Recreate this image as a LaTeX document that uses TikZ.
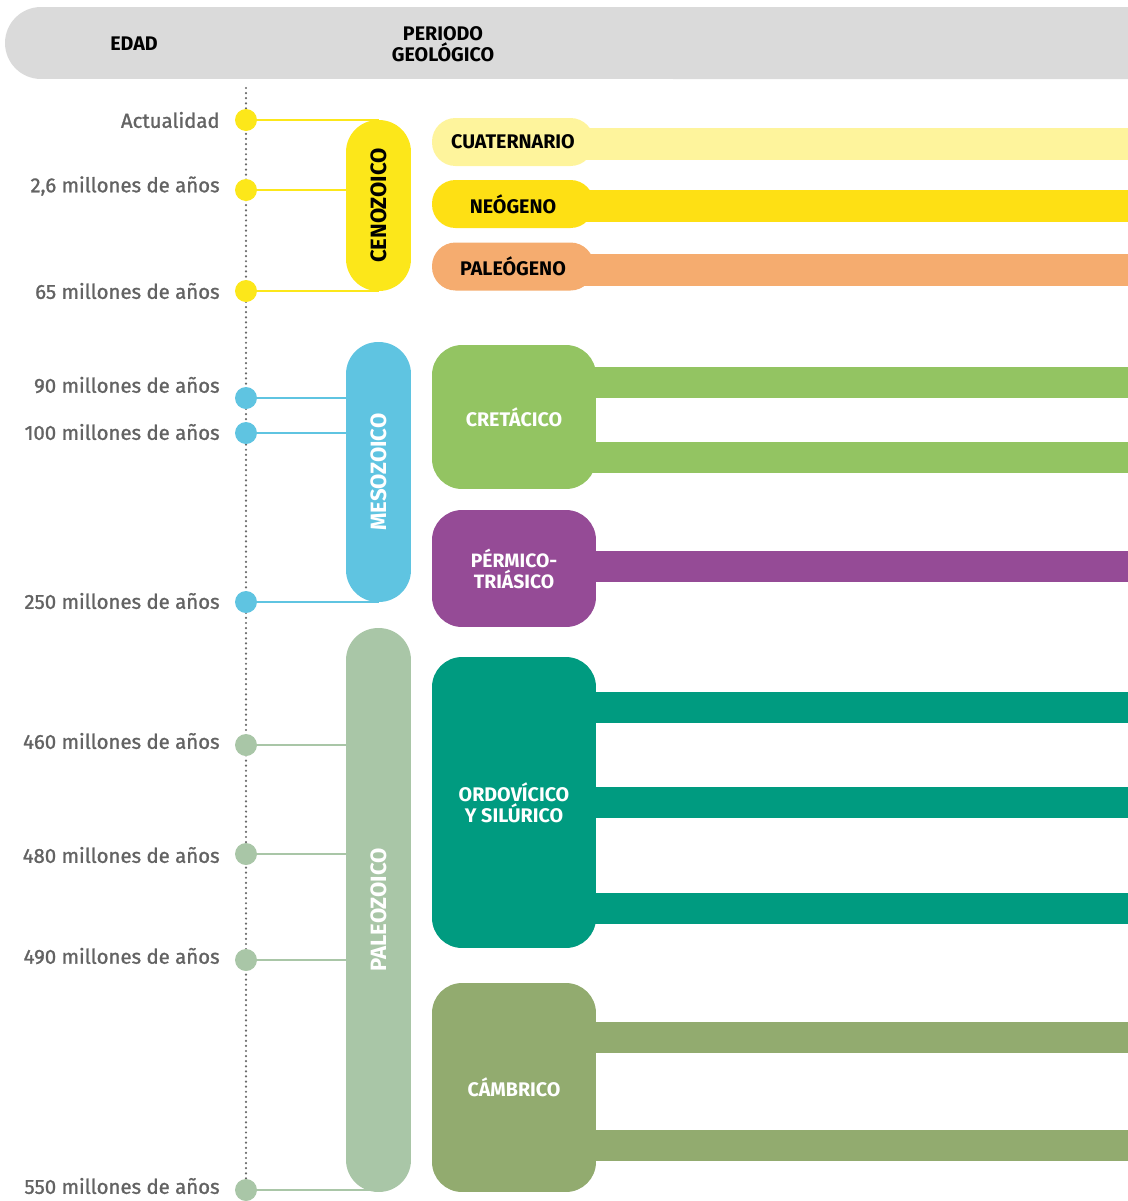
\documentclass[tikz,border=0pt]{standalone}
\usepackage{fontspec}
\setmainfont{Fira Sans}
\newfontfamily\agefont[FakeBold=1.2]{Fira Sans}
\usetikzlibrary{backgrounds}
\definecolor{hdr}{HTML}{DADADA}
\definecolor{agegray}{HTML}{636363}
\definecolor{dotgray}{HTML}{6A6A6A}
\definecolor{cceno}{HTML}{FCE71A}
\definecolor{cmeso}{HTML}{5FC4E1}
\definecolor{cpaleo}{HTML}{A9C6A7}
\definecolor{ccuat}{HTML}{FEF49C}
\definecolor{cneo}{HTML}{FEE014}
\definecolor{cpaleog}{HTML}{F5AC6F}
\definecolor{ccret}{HTML}{93C462}
\definecolor{cperm}{HTML}{954B96}
\definecolor{cordo}{HTML}{009B80}
\definecolor{ccamb}{HTML}{92AB6F}
\begin{document}
\begin{tikzpicture}[x=0.02cm,y=-0.02cm,
  agelbl/.style={anchor=east, text=agegray, inner sep=0, font=\agefont\fontsize{11.6}{14}\selectfont},
  dotn/.style={circle, minimum size=0.44cm, inner sep=0, fill=#1},
  conn/.style={draw=#1, line width=1.1pt},
  era/.style={rotate=90, minimum height=1.3cm, rounded corners=0.64cm, inner sep=0, font=\bfseries\fontsize{12.6}{13}\selectfont},
  pill/.style={rounded corners=0.47cm, minimum width=3.24cm, minimum height=0.96cm, inner sep=0, font=\bfseries\fontsize{11.2}{12}\selectfont},
  bigbox/.style={rounded corners=0.6cm, minimum width=3.28cm, inner sep=0, text=white, align=center, font=\bfseries\fontsize{11.2}{12}\selectfont},
  hdrtxt/.style={inner sep=0, align=center, font=\bfseries\fontsize{11.2}{10.2}\selectfont},
  dotline/.style={draw=dotgray, line width=1.4pt, line cap=round, dash pattern=on 0pt off 2.9pt}
]
\useasboundingbox (0,0) rectangle (1128,1201);
% header band
\fill[hdr] (1128,7) -- (41,7) arc[start angle=90, end angle=270, radius=0.72cm] -- (1128,79) -- cycle;
\node[hdrtxt] (edad) at (134,44) {EDAD};
\node[hdrtxt] (periodo) at (443,44) {PERIODO\\GEOLÓGICO};
% dotted time line
\coordinate (ltop) at (246,88);
\coordinate (lbot) at (246,1201);
\draw[dotline] (ltop) -- (lbot);
% bars
\fill[ccuat] (560,128) rectangle (1128,160);
\fill[cneo] (560,190) rectangle (1128,222);
\fill[cpaleog] (560,254) rectangle (1128,286);
\fill[ccret] (560,367) rectangle (1128,398);
\fill[ccret] (560,442) rectangle (1128,473);
\fill[cperm] (560,551) rectangle (1128,582);
\fill[cordo] (560,692) rectangle (1128,723);
\fill[cordo] (560,787) rectangle (1128,818);
\fill[cordo] (560,893) rectangle (1128,924);
\fill[ccamb] (560,1022) rectangle (1128,1053);
\fill[ccamb] (560,1130) rectangle (1128,1161);
% eras
\node[era, fill=cceno, minimum width=3.42cm] (ceno) at (378.5,205.5) {CENOZOICO};
\node[era, fill=cmeso, text=white, minimum width=5.2cm] (meso) at (378.5,472) {MESOZOICO};
\node[era, fill=cpaleo, text=white, minimum width=11.28cm] (paleo) at (378.5,910) {PALEOZOICO};
% periods
\node[pill, fill=ccuat] (cuat) at (513,142) {CUATERNARIO};
\node[pill, fill=cneo] (neo) at (513,204) {NEÓGENO};
\node[pill, fill=cpaleog] (paleog) at (513,266.5) {PALEÓGENO};
\node[bigbox, fill=ccret, minimum height=2.88cm] (cret) at (514,417) {CRETÁCICO};
\node[bigbox, fill=cperm, minimum height=2.34cm, font=\bfseries\fontsize{11}{12}\selectfont] (perm) at (514,568.5) {PÉRMICO-\\TRIÁSICO};
\node[bigbox, fill=cordo, minimum height=5.82cm, font=\bfseries\fontsize{11.2}{10.2}\selectfont] (ordo) at (514,802.5) {ORDOVÍCICO\\Y SILÚRICO};
\node[bigbox, fill=ccamb, minimum height=4.18cm] (camb) at (514,1087.5) {CÁMBRICO};
% dots
\node[dotn=cceno] (d1) at (246,120) {};
\node[dotn=cceno] (d2) at (246,190) {};
\node[dotn=cceno] (d3) at (246,291) {};
\node[dotn=cmeso] (d4) at (246,398) {};
\node[dotn=cmeso] (d5) at (246,433) {};
\node[dotn=cmeso] (d6) at (246,602) {};
\node[dotn=cpaleo] (d7) at (246,745) {};
\node[dotn=cpaleo] (d8) at (246,854) {};
\node[dotn=cpaleo] (d9) at (246,960) {};
\node[dotn=cpaleo] (d10) at (246,1190) {};
% connectors
\begin{scope}[on background layer]
\draw[conn=cceno] (d1) -- (d1 -| ceno.center);
\draw[conn=cceno] (d2) -- (d2 -| ceno.center);
\draw[conn=cceno] (d3) -- (d3 -| ceno.center);
\draw[conn=cmeso] (d4) -- (d4 -| meso.center);
\draw[conn=cmeso] (d5) -- (d5 -| meso.center);
\draw[conn=cmeso] (d6) -- (d6 -| meso.center);
\draw[conn=cpaleo] (d7) -- (d7 -| paleo.center);
\draw[conn=cpaleo] (d8) -- (d8 -| paleo.center);
\draw[conn=cpaleo] (d9) -- (d9 -| paleo.center);
\draw[conn=cpaleo] (d10) -- (d10 -| paleo.center);
\end{scope}
% age labels
\node[agelbl] (a1) at (220,120) {Actualidad};
\node[agelbl] (a2) at (220,186) {2,6 millones de años};
\node[agelbl] (a3) at (220,291) {65 millones de años};
\node[agelbl] (a4) at (220,385) {90 millones de años};
\node[agelbl] (a5) at (220,432) {100 millones de años};
\node[agelbl] (a6) at (220,601) {250 millones de años};
\node[agelbl] (a7) at (220,741) {460 millones de años};
\node[agelbl] (a8) at (220,855) {480 millones de años};
\node[agelbl] (a9) at (220,956) {490 millones de años};
\node[agelbl] (a10) at (220,1186) {550 millones de años};
\end{tikzpicture}
\end{document}
